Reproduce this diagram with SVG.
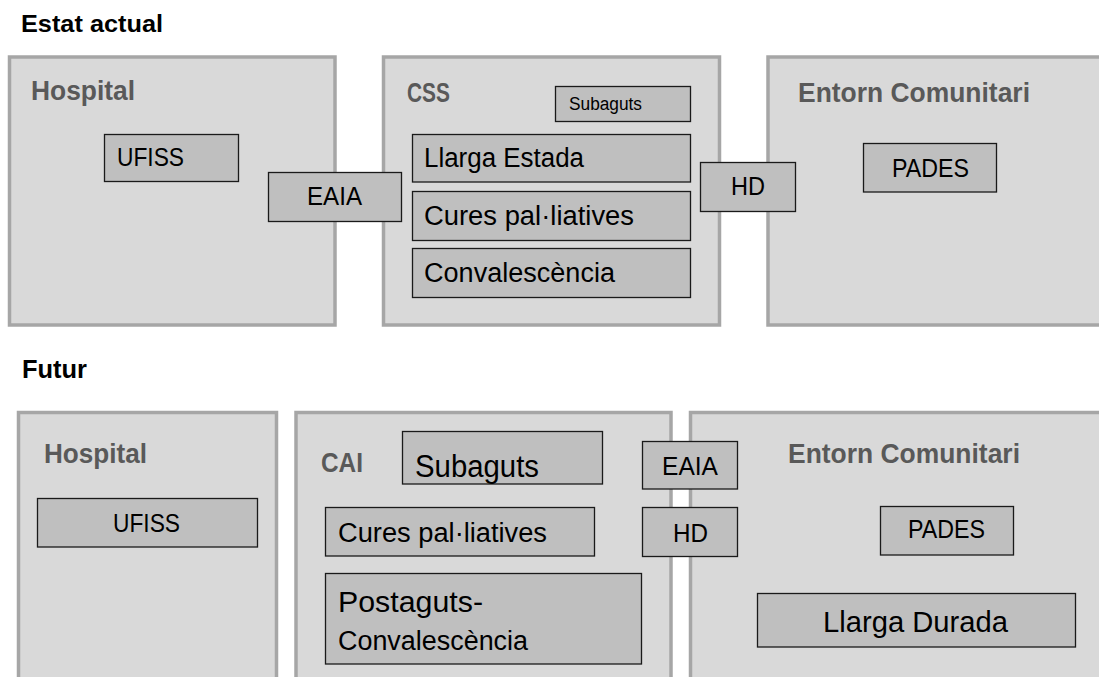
<svg xmlns="http://www.w3.org/2000/svg" width="1099" height="677" viewBox="0 0 1099 677">
<style>
.container{fill:#d9d9d9;stroke:#a6a6a6;stroke-width:3.5}
.box{fill:#bfbfbf;stroke:#1a1a1a;stroke-width:1.3}
.title{font-family:"Liberation Sans",Arial,sans-serif;font-weight:bold;fill:#000}
.label{font-family:"Liberation Sans",Arial,sans-serif;font-weight:bold;fill:#595959;font-size:27px}
.t{font-family:"Liberation Sans",Arial,sans-serif;fill:#000}
</style>
<rect width="1099" height="677" fill="#ffffff"/>
<text class="title" x="21" y="32" font-size="24" textLength="142" lengthAdjust="spacingAndGlyphs">Estat actual</text>
<text class="title" x="22" y="378" font-size="25" textLength="65" lengthAdjust="spacingAndGlyphs">Futur</text>

<!-- Current state containers -->
<g id="hospital-actual">
<rect class="container" x="9.5" y="57" width="325.5" height="268"/>
<text class="label" x="31" y="100" textLength="104" lengthAdjust="spacingAndGlyphs">Hospital</text>
</g>
<g id="css-actual">
<rect class="container" x="383.5" y="57" width="336" height="268"/>
<text class="label" x="407" y="102" font-size="23" textLength="43" lengthAdjust="spacingAndGlyphs">CSS</text>
</g>
<g id="entorn-actual">
<rect class="container" x="768" y="57" width="340" height="268"/>
<text class="label" x="798" y="102" textLength="232" lengthAdjust="spacingAndGlyphs">Entorn Comunitari</text>
</g>

<g id="ufiss-actual">
<rect class="box" x="104.5" y="134.5" width="134" height="47"/>
<text class="t" x="117" y="166" font-size="25" textLength="67" lengthAdjust="spacingAndGlyphs">UFISS</text>
</g>
<g id="subaguts-actual">
<rect class="box" x="555.5" y="86.5" width="135" height="35"/>
<text class="t" x="569" y="110" font-size="18" textLength="73" lengthAdjust="spacingAndGlyphs">Subaguts</text>
</g>
<g id="llarga-estada">
<rect class="box" x="412.5" y="134.5" width="278" height="47.5"/>
<text class="t" x="424" y="167" font-size="27" textLength="160" lengthAdjust="spacingAndGlyphs">Llarga Estada</text>
</g>
<g id="cures-actual">
<rect class="box" x="412.5" y="191.5" width="278" height="49"/>
<text class="t" x="424" y="225" font-size="27" textLength="210" lengthAdjust="spacingAndGlyphs">Cures pal·liatives</text>
</g>
<g id="convalescencia-actual">
<rect class="box" x="412.5" y="248.5" width="278" height="49"/>
<text class="t" x="424" y="282" font-size="27" textLength="191" lengthAdjust="spacingAndGlyphs">Convalescència</text>
</g>
<g id="pades-actual">
<rect class="box" x="863.5" y="143.5" width="133" height="48.5"/>
<text class="t" x="892" y="177" font-size="25" textLength="77" lengthAdjust="spacingAndGlyphs">PADES</text>
</g>
<g id="eaia-actual">
<rect class="box" x="268.5" y="172.5" width="133" height="49"/>
<text class="t" x="307" y="205" font-size="25" textLength="55" lengthAdjust="spacingAndGlyphs">EAIA</text>
</g>
<g id="hd-actual">
<rect class="box" x="700.5" y="162.5" width="95" height="49"/>
<text class="t" x="731" y="195" font-size="25" textLength="34" lengthAdjust="spacingAndGlyphs">HD</text>
</g>

<!-- Future containers -->
<g id="hospital-futur">
<rect class="container" x="18.5" y="412.5" width="258" height="300"/>
<text class="label" x="44" y="463" textLength="103" lengthAdjust="spacingAndGlyphs">Hospital</text>
</g>
<g id="cai-futur">
<rect class="container" x="296" y="412.5" width="375" height="300"/>
<text class="label" x="321" y="472" font-size="25" textLength="42" lengthAdjust="spacingAndGlyphs">CAI</text>
</g>
<g id="entorn-futur">
<rect class="container" x="690.5" y="412.5" width="420" height="300"/>
<text class="label" x="788" y="463" textLength="232" lengthAdjust="spacingAndGlyphs">Entorn Comunitari</text>
</g>

<g id="ufiss-futur">
<rect class="box" x="37.5" y="498.5" width="220" height="48.5"/>
<text class="t" x="113" y="532" font-size="25" textLength="67" lengthAdjust="spacingAndGlyphs">UFISS</text>
</g>
<g id="subaguts-futur">
<rect class="box" x="402.5" y="431.5" width="200" height="52.5"/>
<text class="t" x="415" y="477" font-size="31" textLength="124" lengthAdjust="spacingAndGlyphs">Subaguts</text>
</g>
<g id="cures-futur">
<rect class="box" x="325.5" y="507.5" width="269" height="48.5"/>
<text class="t" x="338" y="542" font-size="27" textLength="209" lengthAdjust="spacingAndGlyphs">Cures pal·liatives</text>
</g>
<g id="postaguts-futur">
<rect class="box" x="325.5" y="573.5" width="316" height="90.5"/>
<text class="t" x="338" y="612" font-size="30" textLength="145" lengthAdjust="spacingAndGlyphs">Postaguts-</text>
<text class="t" x="338" y="650" font-size="27" textLength="190" lengthAdjust="spacingAndGlyphs">Convalescència</text>
</g>
<g id="pades-futur">
<rect class="box" x="880.5" y="506.5" width="133" height="48.5"/>
<text class="t" x="908" y="538" font-size="25" textLength="77" lengthAdjust="spacingAndGlyphs">PADES</text>
</g>
<g id="llarga-durada">
<rect class="box" x="757.5" y="593.5" width="318" height="53.5"/>
<text class="t" x="823" y="632" font-size="30" textLength="185" lengthAdjust="spacingAndGlyphs">Llarga Durada</text>
</g>
<g id="eaia-futur">
<rect class="box" x="642.5" y="441.5" width="95" height="47.5"/>
<text class="t" x="662" y="475" font-size="25" textLength="56" lengthAdjust="spacingAndGlyphs">EAIA</text>
</g>
<g id="hd-futur">
<rect class="box" x="642.5" y="507.5" width="95" height="49"/>
<text class="t" x="673" y="542" font-size="25" textLength="35" lengthAdjust="spacingAndGlyphs">HD</text>
</g>

<g id="connectors"></g>
</svg>
